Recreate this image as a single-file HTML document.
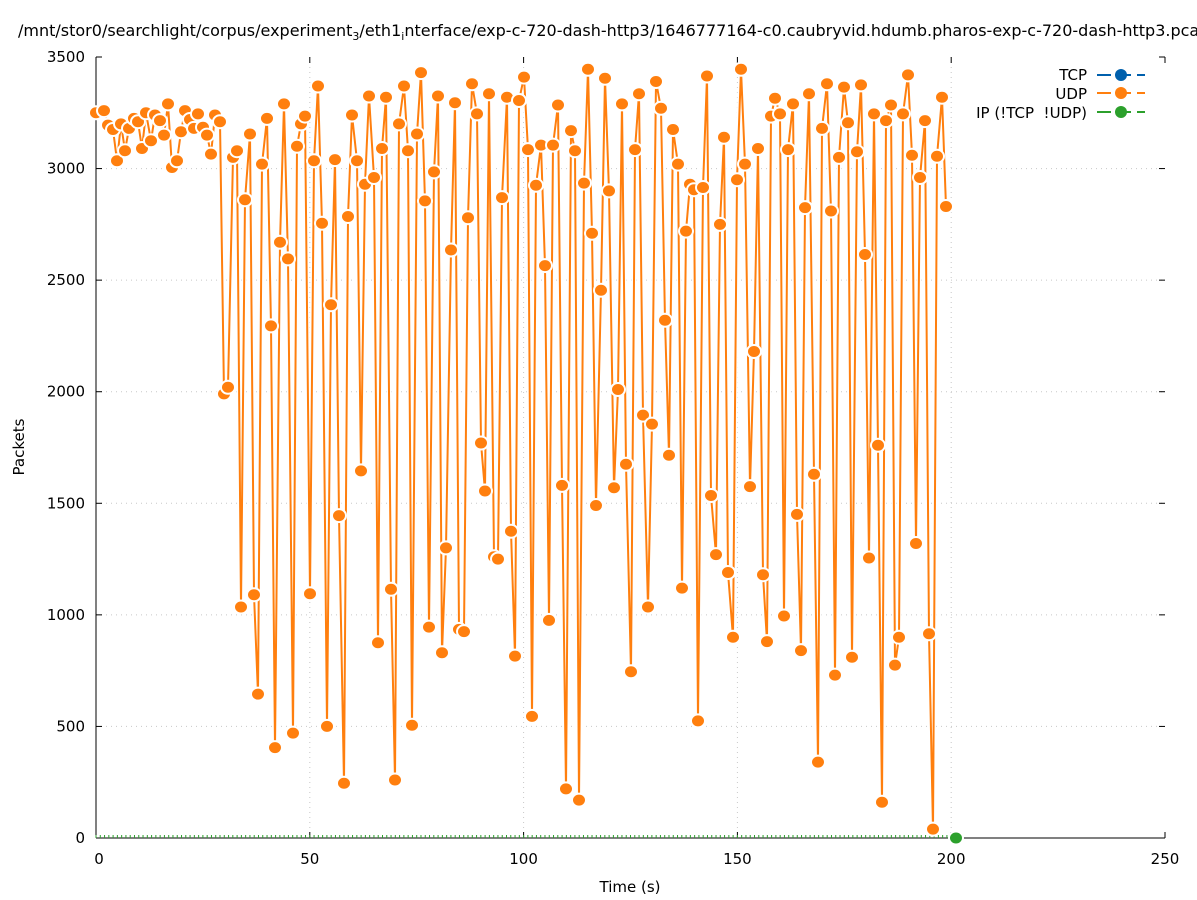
<!DOCTYPE html>
<html><head><meta charset="utf-8"><style>
html,body{margin:0;padding:0;background:#fff;}
svg{display:block;font-family:"DejaVu Sans","Liberation Sans",sans-serif;}
</style></head><body>
<svg id="s" width="1197" height="900" viewBox="0 0 1197 900" xmlns="http://www.w3.org/2000/svg">
<rect width="1197" height="900" fill="#fff"/>
<text x="18" y="36" font-size="16" fill="#000">/mnt/stor0/searchlight/corpus/experiment<tspan font-size="11" dy="4">3</tspan><tspan dy="-4">/eth1</tspan><tspan font-size="11" dy="4">i</tspan><tspan dy="-4">nterface/exp-c-720-dash-http3/1646777164-c0.caubryvid.hdumb.pharos-exp-c-720-dash-http3.pcap</tspan></text>
<g id="grid" stroke="#c8c8c8" stroke-width="1" stroke-dasharray="1,4"></g>
<g id="axes" stroke="#000" stroke-width="1"></g>
<g id="labels" font-size="15" fill="#000"></g>
<text x="24" y="447" font-size="15" transform="rotate(-90 24 447)" text-anchor="middle">Packets</text>
<text x="630" y="892" font-size="15" text-anchor="middle">Time (s)</text>
<g id="greent" stroke="#2ca02c" stroke-width="1"></g>
<g id="series"></g>
<g font-size="15">
<text x="1087" y="80" text-anchor="end">TCP</text>
<line x1="1097" y1="75" x2="1145" y2="75" stroke="#0060ad" stroke-width="2" stroke-dasharray="14,6"/>
<circle cx="1121" cy="75" r="6" fill="#0060ad"/>
<text x="1087" y="99" text-anchor="end">UDP</text>
<line x1="1097" y1="93" x2="1145" y2="93" stroke="#ff7f0e" stroke-width="2" stroke-dasharray="14,6"/>
<circle cx="1121" cy="93" r="6" fill="#ff7f0e"/>
<text x="1087" y="118" text-anchor="end" xml:space="preserve">IP (!TCP  !UDP)</text>
<line x1="1097" y1="112" x2="1145" y2="112" stroke="#2ca02c" stroke-width="2" stroke-dasharray="14,6"/>
<circle cx="1121" cy="112" r="6" fill="#2ca02c"/>
</g>
</svg>
<script>
var NS="http://www.w3.org/2000/svg";
function el(p,t,a,txt){var e=document.createElementNS(NS,t);for(var k in a)e.setAttribute(k,a[k]);if(txt!==undefined)e.textContent=txt;document.getElementById(p).appendChild(e);return e;}
var X0=96,X1=1165,Y0=838,Y1=57;
function yv(v){return Y0-v*(Y0-Y1)/3500;}
for(var i=0;i<=7;i++){var y=yv(i*500);
 if(i>0&&i<7)el("grid","line",{x1:X0,y1:y,x2:X1,y2:y});
 el("axes","line",{x1:X0,y1:y,x2:X0+6,y2:y});el("axes","line",{x1:X1,y1:y,x2:X1-6,y2:y});
 el("labels","text",{x:85,y:y+5,"text-anchor":"end"},String(i*500));}
for(var i=0;i<=5;i++){var x=X0+i*(X1-X0)/5;
 if(i>0&&i<5)el("grid","line",{x1:x,y1:Y1,x2:x,y2:Y0});
 el("axes","line",{x1:x,y1:Y0,x2:x,y2:Y0-6});el("axes","line",{x1:x,y1:Y1,x2:x,y2:Y1+6});
 el("labels","text",{x:i==0?99:x,y:864,"text-anchor":"middle"},String(i*50));}
el("axes","line",{x1:X0,y1:Y1,x2:X0,y2:Y0});
el("axes","line",{x1:X0,y1:Y0,x2:X1,y2:Y0});
for(var t=0;t<=200;t++){var x=X0+t*4.276;el("greent","line",{x1:x,y1:Y0-3,x2:x,y2:Y0});}
var d=[96,3250,104,3260,108,3195,113,3175,117,3035,121,3200,125,3080,129,3180,134,3225,138,3210,142,3090,146,3250,151,3125,155,3240,160,3215,164,3150,168,3290,172,3005,177,3035,181,3165,185,3260,190,3220,194,3180,198,3245,203,3185,207,3150,211,3065,215,3240,220,3210,224,1990,228,2020,233,3050,237,3080,241,1035,245,2860,250,3155,254,1090,258,645,262,3020,267,3225,271,2295,275,405,280,2670,284,3290,288,2595,293,470,297,3100,301,3200,305,3235,310,1095,314,3035,318,3370,322,2755,327,500,331,2390,335,3040,339,1445,344,245,348,2785,352,3240,357,3035,361,1645,365,2930,369,3325,374,2960,378,875,382,3090,386,3320,391,1115,395,260,399,3200,404,3370,408,3080,412,505,417,3155,421,3430,425,2855,429,945,434,2985,438,3325,442,830,446,1300,451,2635,455,3295,459,935,464,925,468,2780,472,3380,477,3245,481,1770,485,1555,489,3335,494,1260,498,1250,502,2870,507,3320,511,1375,515,815,519,3305,524,3410,528,3085,532,545,536,2925,541,3105,545,2565,549,975,553,3105,558,3285,562,1580,566,220,571,3170,575,3080,579,170,584,2935,588,3445,592,2710,596,1490,601,2455,605,3405,609,2900,614,1570,618,2010,622,3290,626,1675,631,745,635,3085,639,3335,643,1895,648,1035,652,1855,656,3390,661,3270,665,2320,669,1715,673,3175,678,3020,682,1120,686,2720,690,2930,694,2905,698,525,703,2915,707,3415,711,1535,716,1270,720,2750,724,3140,728,1190,733,900,737,2950,741,3445,745,3020,750,1575,754,2180,758,3090,763,1180,767,880,771,3235,775,3315,780,3245,784,995,788,3085,793,3290,797,1450,801,840,805,2825,809,3335,814,1630,818,340,822,3180,827,3380,831,2810,835,730,839,3050,844,3365,848,3205,852,810,857,3075,861,3375,865,2615,869,1255,874,3245,878,1760,882,160,886,3215,891,3285,895,775,899,900,903,3245,908,3420,912,3060,916,1320,920,2960,925,3215,929,915,933,40,937,3055,942,3320,946,2830];
var pts=[];for(var i=0;i<d.length;i+=2)pts.push(d[i]+","+yv(d[i+1]).toFixed(1));
el("series","polyline",{points:pts.join(" "),fill:"none",stroke:"#fff","stroke-width":5,"stroke-linejoin":"round"});
el("series","polyline",{points:pts.join(" "),fill:"none",stroke:"#ff7f0e","stroke-width":2,"stroke-linejoin":"round"});
for(var i=0;i<d.length;i+=2)el("series","ellipse",{cx:d[i],cy:yv(d[i+1]).toFixed(1),rx:7,ry:6.5,fill:"#ff7f0e",stroke:"#fff","stroke-width":2});
el("series","ellipse",{cx:956,cy:838,rx:7,ry:6.5,fill:"#2ca02c",stroke:"#fff","stroke-width":2});
</script>
</body></html>
